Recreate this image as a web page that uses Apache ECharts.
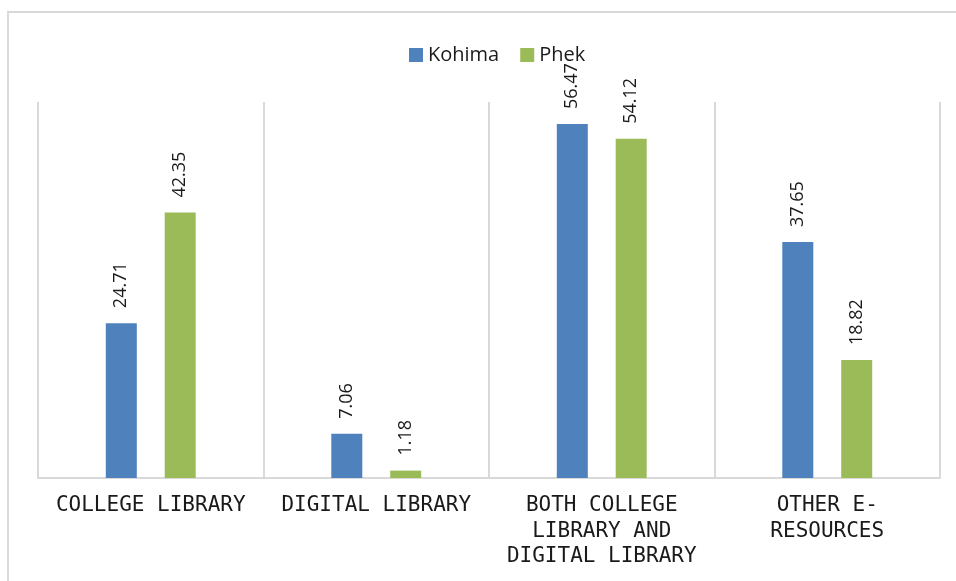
<!DOCTYPE html>
<html>
<head>
<meta charset="utf-8">
<script src="https://cdn.jsdelivr.net/npm/echarts@6/dist/echarts.min.js"></script>
<style>
  html, body { margin: 0; padding: 0; background: #fff; }
  .wrap { position: relative; width: 956px; height: 581px; overflow: hidden; }
  .frame {
    position: absolute;
    left: 7px;
    top: 11px;
    width: 1000px;
    height: 700px;
    border: 2px solid #d9d9d9;
  }
  #chart { position: absolute; left: 0; top: 0; width: 956px; height: 581px; }
</style>
</head>
<body>
<div class="wrap">
  <div class="frame"></div>
  <div id="chart"></div>
</div>
<script>
  const categories = [
    'COLLEGE LIBRARY',
    'DIGITAL LIBRARY',
    'BOTH COLLEGE\nLIBRARY AND\nDIGITAL LIBRARY',
    'OTHER E-\nRESOURCES'
  ]
  const kohima = [24.71, 7.06, 56.47, 37.65]
  const phek = [42.35, 1.18, 54.12, 18.82]

  const chart = echarts.init(document.getElementById('chart'))

  // rotated value labels above each bar
  const barLabel = {
    show: true,
    position: 'top',
    rotate: 90,
    align: 'left',
    verticalAlign: 'middle',
    distance: 15,
    fontFamily: 'Open Sans',
    fontSize: 18,
    color: '#1a1a1a',
    formatter: (p) => p.value.toFixed(2)
  }

  const option = {
    animation: false,
    legend: {
      top: 40,
      left: 404,
      icon: 'rect',
      itemWidth: 14,
      itemHeight: 14,
      itemGap: 21,
      textStyle: {
        fontFamily: 'Open Sans',
        fontSize: 20,
        color: '#1a1a1a'
      }
    },
    grid: {
      left: 38,
      right: 16,
      top: 102,
      bottom: 103
    },
    xAxis: {
      type: 'category',
      data: categories,
      boundaryGap: true,
      axisTick: { show: false },
      axisLine: {
        show: true,
        lineStyle: { color: '#d9d9d9', width: 2 }
      },
      splitLine: {
        show: true,
        interval: 0,
        lineStyle: { color: '#d9d9d9', width: 2 }
      },
      axisLabel: {
        interval: 0,
        margin: 15,
        fontFamily: 'DejaVu Sans Mono',
        fontSize: 21,
        lineHeight: 25.5,
        color: '#1a1a1a'
      }
    },
    yAxis: {
      type: 'value',
      min: 0,
      max: 60,
      show: false,
      splitLine: { show: false }
    },
    series: [
      {
        name: 'Kohima',
        type: 'bar',
        data: kohima,
        barWidth: 31,
        barGap: '90%',
        itemStyle: { color: '#4f81bd' },
        label: barLabel
      },
      {
        name: 'Phek',
        type: 'bar',
        data: phek,
        barWidth: 31,
        barGap: '90%',
        itemStyle: { color: '#9bbb59' },
        label: barLabel
      }
    ]
  }

  chart.setOption(option)
</script>
</body>
</html>
